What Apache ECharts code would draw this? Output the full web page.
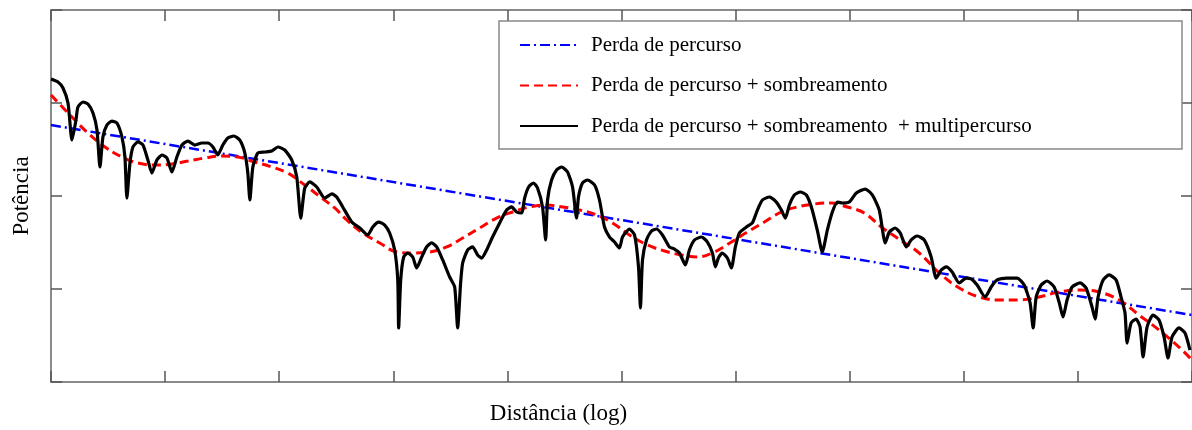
<!DOCTYPE html>
<html>
<head>
<meta charset="utf-8">
<script src="https://cdn.jsdelivr.net/npm/echarts@6/dist/echarts.min.js"></script>
<style>
html,body{margin:0;padding:0;background:#fff;}
#chart{width:1192px;height:430px;}
</style>
</head>
<body>
<div id="chart"></div>
<script>
// Axis extents (arbitrary units: log distance 0..10, power 0..4), no tick labels
const xTicks = [0,1,2,3,4,5,6,7,8,9,10];
const yTicks = [0,1,2,3,4];

const seriesNames = [
  'Perda de percurso',
  'Perda de percurso + sombreamento',
  'Perda de percurso + sombreamento  + multipercurso'
];

// Path loss (straight line in log distance)
const pathLoss = [[0,2.763],[10,0.72]];

// Path loss + shadowing
const shadowing = [
  [0,3.086],[0.184,2.849],[0.324,2.677],[0.473,2.527],[0.622,2.419],[0.762,2.355],[0.911,2.333],
  [1.060,2.344],[1.200,2.376],[1.349,2.409],[1.497,2.430],[1.637,2.419],[1.786,2.366],[1.935,2.312],
  [2.075,2.247],[2.224,2.118],[2.373,1.978],[2.487,1.871],[2.592,1.742],[2.732,1.602],[2.881,1.495],
  [3.030,1.398],[3.170,1.387],[3.319,1.398],[3.468,1.452],[3.608,1.548],[3.757,1.656],[3.905,1.763],
  [4.046,1.828],[4.194,1.882],[4.343,1.903],[4.483,1.882],[4.632,1.849],[4.781,1.796],[4.921,1.710],
  [5.070,1.581],[5.228,1.473],[5.377,1.409],[5.525,1.366],[5.665,1.344],[5.814,1.398],[5.963,1.505],
  [6.103,1.613],[6.252,1.720],[6.401,1.828],[6.541,1.882],[6.690,1.914],[6.839,1.925],[6.979,1.882],
  [7.128,1.817],[7.277,1.667],[7.417,1.548],[7.609,1.387],[7.785,1.172],[7.960,1.011],[8.135,0.914],
  [8.310,0.882],[8.485,0.882],[8.660,0.914],[8.835,0.968],[9.011,0.989],[9.186,0.968],[9.361,0.882],
  [9.536,0.720],[9.711,0.559],[9.886,0.376],[10,0.237]
];

// Path loss + shadowing + multipath
const multipath = [
  [0,3.258],[0.061,3.226],[0.105,3.161],[0.149,3.000],[0.184,2.602],[0.219,2.817],[0.236,2.957],
  [0.280,3.011],[0.324,2.989],[0.368,2.892],[0.403,2.710],[0.429,2.312],[0.455,2.634],[0.490,2.763],
  [0.534,2.806],[0.578,2.785],[0.622,2.634],[0.648,2.419],[0.665,1.978],[0.692,2.355],[0.718,2.527],
  [0.762,2.581],[0.806,2.548],[0.849,2.387],[0.884,2.247],[0.928,2.387],[0.972,2.441],[1.016,2.409],
  [1.060,2.258],[1.103,2.419],[1.147,2.548],[1.200,2.591],[1.261,2.548],[1.322,2.570],[1.375,2.570],
  [1.419,2.527],[1.462,2.441],[1.506,2.548],[1.550,2.624],[1.602,2.645],[1.655,2.602],[1.699,2.462],
  [1.725,2.247],[1.743,1.957],[1.769,2.312],[1.813,2.462],[1.874,2.473],[1.935,2.484],[1.988,2.527],
  [2.049,2.495],[2.110,2.387],[2.154,2.204],[2.189,1.763],[2.224,2.086],[2.268,2.151],[2.329,2.097],
  [2.399,1.978],[2.461,2.022],[2.504,1.989],[2.557,1.882],[2.636,1.720],[2.706,1.656],[2.776,1.581],
  [2.820,1.667],[2.872,1.720],[2.925,1.688],[2.968,1.602],[3.012,1.419],[3.039,1.097],[3.047,0.581],
  [3.065,1.097],[3.091,1.344],[3.126,1.387],[3.170,1.344],[3.205,1.226],[3.249,1.344],[3.292,1.452],
  [3.336,1.495],[3.380,1.452],[3.433,1.312],[3.494,1.129],[3.538,1.022],[3.564,0.581],[3.590,1.065],
  [3.608,1.280],[3.651,1.419],[3.695,1.452],[3.739,1.366],[3.774,1.333],[3.818,1.419],[3.870,1.559],
  [3.932,1.710],[3.993,1.849],[4.037,1.882],[4.081,1.828],[4.124,1.817],[4.151,1.978],[4.186,2.097],
  [4.229,2.140],[4.264,2.086],[4.308,1.882],[4.335,1.527],[4.352,1.957],[4.387,2.172],[4.431,2.280],
  [4.475,2.312],[4.527,2.258],[4.571,2.097],[4.606,1.763],[4.623,1.989],[4.658,2.140],[4.702,2.172],
  [4.764,2.118],[4.807,1.957],[4.851,1.667],[4.895,1.559],[4.939,1.505],[4.982,1.441],[5.009,1.559],
  [5.070,1.645],[5.114,1.581],[5.149,1.237],[5.166,0.796],[5.184,1.312],[5.219,1.527],[5.263,1.624],
  [5.306,1.645],[5.359,1.581],[5.420,1.452],[5.464,1.430],[5.508,1.387],[5.560,1.258],[5.595,1.419],
  [5.639,1.527],[5.701,1.559],[5.753,1.505],[5.797,1.387],[5.823,1.237],[5.849,1.333],[5.884,1.387],
  [5.928,1.333],[5.963,1.226],[5.998,1.452],[6.033,1.602],[6.095,1.667],[6.147,1.710],[6.191,1.849],
  [6.235,1.957],[6.296,1.989],[6.357,1.935],[6.401,1.849],[6.436,1.763],[6.471,1.903],[6.515,2.011],
  [6.567,2.043],[6.620,2.011],[6.664,1.882],[6.716,1.634],[6.760,1.398],[6.804,1.634],[6.848,1.828],
  [6.891,1.935],[6.935,1.925],[6.996,1.935],[7.058,2.032],[7.137,2.075],[7.198,2.011],[7.259,1.849],
  [7.312,1.495],[7.347,1.613],[7.399,1.656],[7.443,1.602],[7.496,1.452],[7.539,1.527],[7.592,1.570],
  [7.653,1.527],[7.714,1.344],[7.758,1.118],[7.802,1.204],[7.846,1.237],[7.898,1.183],[7.960,1.065],
  [8.021,1.118],[8.065,1.108],[8.117,1.043],[8.187,0.914],[8.240,1.022],[8.292,1.097],[8.371,1.118],
  [8.468,1.118],[8.529,1.043],[8.581,0.849],[8.608,0.581],[8.634,0.914],[8.678,1.043],[8.730,1.086],
  [8.792,1.022],[8.835,0.860],[8.870,0.699],[8.905,0.882],[8.949,1.022],[9.019,1.065],[9.072,1.011],
  [9.124,0.806],[9.151,0.677],[9.177,0.914],[9.221,1.097],[9.273,1.151],[9.335,1.097],[9.378,0.914],
  [9.413,0.742],[9.431,0.419],[9.466,0.634],[9.510,0.677],[9.545,0.591],[9.571,0.269],[9.606,0.591],
  [9.658,0.720],[9.711,0.667],[9.755,0.484],[9.790,0.258],[9.825,0.484],[9.886,0.581],[9.939,0.527],
  [9.982,0.344]
];

const FONT = "'Liberation Serif', 'DejaVu Serif', serif";
const AXIS_GRAY = '#8a8a8a';

const chart = echarts.init(document.getElementById('chart'), null, {renderer: 'canvas'});

function xAxisCfg(pos, withName) {
  return {
    type: 'value', position: pos, gridIndex: 0,
    min: xTicks[0], max: xTicks[xTicks.length - 1], interval: xTicks[1] - xTicks[0],
    name: withName ? 'Distância (log)' : '',
    nameLocation: 'middle', nameGap: 20,
    nameTextStyle: {fontFamily: FONT, fontSize: 23, color: '#000', padding: [0, 126, 0, 0]},
    axisLine: {show: true, onZero: false, lineStyle: {color: AXIS_GRAY, width: 2}},
    axisTick: {show: true, inside: true, length: 11, lineStyle: {color: '#555', width: 1.5}},
    axisLabel: {show: false}, splitLine: {show: false}
  };
}
function yAxisCfg(pos, withName) {
  return {
    type: 'value', position: pos, gridIndex: 0,
    min: yTicks[0], max: yTicks[yTicks.length - 1], interval: yTicks[1] - yTicks[0],
    name: withName ? 'Potência' : '',
    nameLocation: 'middle', nameGap: 18, nameRotate: 90,
    nameTextStyle: {fontFamily: FONT, fontSize: 23, color: '#000'},
    axisLine: {show: true, onZero: false, lineStyle: {color: AXIS_GRAY, width: 2}},
    axisTick: {show: true, inside: true, length: 11, lineStyle: {color: '#555', width: 1.5}},
    axisLabel: {show: false}, splitLine: {show: false}
  };
}

chart.setOption({
  animation: false,
  backgroundColor: '#fff',
  grid: {left: 51, top: 10, width: 1142, height: 372, containLabel: false},
  xAxis: [xAxisCfg('bottom', true), xAxisCfg('top', false)],
  yAxis: [yAxisCfg('left', true), yAxisCfg('right', false)],
  legend: {
    orient: 'vertical',
    left: 499, top: 21,
    data: seriesNames,
    itemWidth: 58, itemHeight: 14,
    itemGap: 19.5,
    padding: [13.5, 21, 12.5, 20],
    borderColor: '#888', borderWidth: 1.5,
    backgroundColor: '#fff',
    selectedMode: false,
    itemStyle: {color: 'rgba(0,0,0,0)', borderWidth: 0, opacity: 0},
    textStyle: {fontFamily: FONT, fontSize: 21, color: '#000', lineHeight: 21,
                padding: [0, 0, 0, 8], width: 570, overflow: 'none'}
  },
  series: [
    {
      name: seriesNames[0], type: 'line', data: pathLoss,
      xAxisIndex: 0, yAxisIndex: 0,
      showSymbol: false, symbol: 'none',
      lineStyle: {color: '#0000ff', width: 2.5, type: [10, 4, 2, 4]},
      itemStyle: {color: '#0000ff'}
    },
    {
      name: seriesNames[1], type: 'line', data: shadowing,
      xAxisIndex: 0, yAxisIndex: 0,
      showSymbol: false, symbol: 'none', smooth: 0.4,
      lineStyle: {color: '#ff0000', width: 3, type: [9, 5]},
      itemStyle: {color: '#ff0000'}
    },
    {
      name: seriesNames[2], type: 'line', data: multipath,
      xAxisIndex: 0, yAxisIndex: 0,
      showSymbol: false, symbol: 'none', smooth: 0.2,
      lineStyle: {color: '#000000', width: 3.2},
      itemStyle: {color: '#000000'}
    }
  ]
});
</script>
</body>
</html>
